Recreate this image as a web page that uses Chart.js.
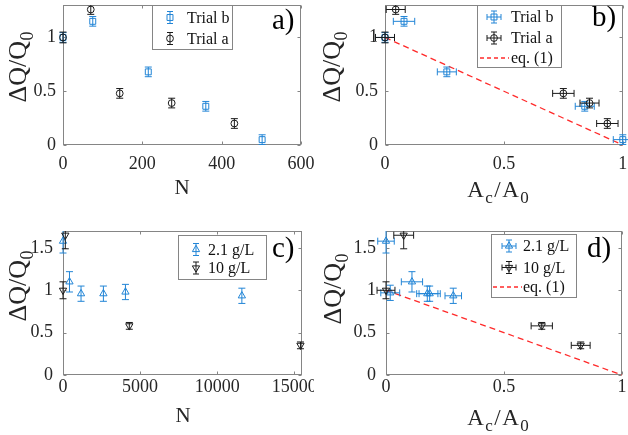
<!DOCTYPE html>
<html>
<head>
<meta charset="utf-8">
<script src="https://cdn.jsdelivr.net/npm/chart.js@4.4.0/dist/chart.umd.min.js"></script>
<style>
  html, body { margin: 0; padding: 0; background: #fff; }
  #wrap { position: relative; width: 628px; height: 435px; }
  canvas { position: absolute; }
</style>
</head>
<body>
<div id="wrap">
  <canvas id="chartA" width="314" height="218" style="left:0;top:0"></canvas>
  <canvas id="chartB" width="314" height="218" style="left:314px;top:0"></canvas>
  <canvas id="chartC" width="314" height="217" style="left:0;top:218px"></canvas>
  <canvas id="chartD" width="314" height="217" style="left:314px;top:218px"></canvas>
</div>
<script>
// tick values
const xTicksA = [0, 200, 400, 600];
const xTicksB = [0, 0.5, 1];
const xTicksC = [0, 5000, 10000, 15000];
const yTicksTop = [0, 0.5, 1];
const yTicksBottom = [0, 0.5, 1, 1.5];

// a) / b)  Trial b and Trial a
const trialbN = [0, 75, 215, 360, 502];
const trialbQ = [1.00, 1.15, 0.68, 0.36, 0.05];
const trialbQErr = [0.045, 0.045, 0.045, 0.045, 0.045];
const trialbA = [0, 0.08, 0.26, 0.84, 1.0];
const trialbAErr = [0.04, 0.045, 0.04, 0.04, 0.04];

const trialaN = [0, 70, 143, 274, 432];
const trialaQ = [1.00, 1.26, 0.48, 0.39, 0.20];
const trialaQErr = [0.05, 0.045, 0.045, 0.045, 0.045];
const trialaA = [0, 0.045, 0.75, 0.86, 0.935];
const trialaAErr = [0.04, 0.04, 0.045, 0.04, 0.045];

// c) / d)  2.1 g/L and 10 g/L
const lowN = [0, 420, 1170, 2620, 4050, 11600];
const lowQ = [1.58, 1.10, 0.96, 0.96, 0.98, 0.935];
const lowQErr = [0.14, 0.12, 0.09, 0.09, 0.09, 0.09];
const lowA = [0, 0.018, 0.11, 0.175, 0.185, 0.285];
const lowAQ = [1.58, 0.97, 1.10, 0.96, 0.96, 0.935];
const lowAQErr = [0.14, 0.09, 0.12, 0.09, 0.09, 0.09];
const lowAErr = [0.035, 0.04, 0.045, 0.045, 0.045, 0.035];

const highN = [0, 150, 4300, 15400];
const highQ = [1.00, 1.65, 0.58, 0.35];
const highQErr = [0.1, 0.16, 0.04, 0.04];
const highA = [0, 0.075, 0.66, 0.825];
const highAErr = [0.038, 0.042, 0.045, 0.04];

// eq. (1)
const eqA = [0, 1];
const eqQ = [1, 0];

const SERIF = "'Liberation Serif', 'Times New Roman', serif";
const BLUE = '#2285d6';
const BLACK = '#1a1a1a';
const RED = '#ff2a2a';
const AXIS = '#858585';

Chart.defaults.font.family = SERIF;

const pts = (xs, ys) => xs.map((x, i) => ({ x: x, y: ys[i] }));

function series(xs, ys, color, style, rot, errY, errX) {
  return {
    data: pts(xs, ys),
    borderColor: color,
    backgroundColor: 'rgba(0,0,0,0)',
    pointStyle: style,
    pointRadius: style === 'rect' ? 4.2 : (style === 'circle' ? 3.4 : 4.2),
    pointRotation: rot,
    pointBorderWidth: 1,
    clip: false,
    errY: errY,
    errX: errX
  };
}

function eqLine() {
  return {
    data: pts(eqA, eqQ),
    showLine: true,
    borderColor: RED,
    borderWidth: 1.3,
    borderDash: [6, 4],
    pointRadius: 0,
    clip: false
  };
}

function drawMarker(ctx, style, x, y, r, rot) {
  ctx.beginPath();
  if (style === 'circle') {
    ctx.arc(x, y, r, 0, Math.PI * 2);
  } else if (style === 'rect') {
    const s = r * Math.SQRT1_2;
    ctx.rect(x - s, y - s, 2 * s, 2 * s);
  } else {
    const d = rot ? -1 : 1;
    ctx.moveTo(x, y - d * r);
    ctx.lineTo(x + r * 0.866, y + d * r * 0.5);
    ctx.lineTo(x - r * 0.866, y + d * r * 0.5);
    ctx.closePath();
  }
  ctx.stroke();
}

const errorBars = {
  id: 'errorBars',
  beforeDatasetDraw(chart, args) {
    const ds = chart.data.datasets[args.index];
    if (!ds.errY && !ds.errX) return;
    const xs = chart.scales.x, ys = chart.scales.y, a = chart.chartArea;
    const ctx = chart.ctx, cap = 3.5;
    ctx.save();
    ctx.beginPath();
    ctx.rect(a.left - 10, a.top, a.right - a.left + 20, a.bottom - a.top);
    ctx.clip();
    ctx.strokeStyle = ds.borderColor;
    ctx.lineWidth = 1;
    ds.data.forEach((p, i) => {
      const px = xs.getPixelForValue(p.x), py = ys.getPixelForValue(p.y);
      ctx.beginPath();
      if (ds.errY) {
        const t = ys.getPixelForValue(p.y + ds.errY[i]);
        const b = ys.getPixelForValue(p.y - ds.errY[i]);
        ctx.moveTo(px, t); ctx.lineTo(px, b);
        ctx.moveTo(px - cap, t); ctx.lineTo(px + cap, t);
        ctx.moveTo(px - cap, b); ctx.lineTo(px + cap, b);
      }
      if (ds.errX) {
        const l = xs.getPixelForValue(p.x - ds.errX[i]);
        const r = xs.getPixelForValue(p.x + ds.errX[i]);
        ctx.moveTo(l, py); ctx.lineTo(r, py);
        ctx.moveTo(l, py - cap); ctx.lineTo(l, py + cap);
        ctx.moveTo(r, py - cap); ctx.lineTo(r, py + cap);
      }
      ctx.stroke();
    });
    ctx.restore();
  }
};

const axesBox = {
  id: 'axesBox',
  beforeDatasetsDraw(chart) {
    const a = chart.chartArea, ctx = chart.ctx;
    const L = Math.round(a.left) + 0.5, R = Math.round(a.right) - 0.5;
    const T = Math.round(a.top) + 0.5, B = Math.round(a.bottom) - 0.5;
    ctx.save();
    ctx.strokeStyle = AXIS;
    ctx.lineWidth = 1;
    ctx.strokeRect(L, T, R - L, B - T);
    ctx.beginPath();
    chart.scales.x.ticks.forEach(t => {
      const x = Math.round(chart.scales.x.getPixelForValue(t.value)) + 0.5;
      ctx.moveTo(x, B); ctx.lineTo(x, B - 3);
      ctx.moveTo(x, T); ctx.lineTo(x, T + 3);
    });
    chart.scales.y.ticks.forEach(t => {
      const y = Math.round(chart.scales.y.getPixelForValue(t.value)) + 0.5;
      ctx.moveTo(L, y); ctx.lineTo(L + 3, y);
      ctx.moveTo(R, y); ctx.lineTo(R - 3, y);
    });
    ctx.stroke();
    ctx.restore();
  }
};

// text pieces: [text, isSub]
function drawParts(ctx, parts, x, y, size, subSize, gap) {
  ctx.textAlign = 'left';
  let w = 0;
  parts.forEach(p => {
    ctx.font = (p[1] ? subSize : size) + 'px ' + SERIF;
    w += ctx.measureText(p[0]).width + gap;
  });
  w -= gap;
  let cx = x - w / 2;
  parts.forEach(p => {
    ctx.font = (p[1] ? subSize : size) + 'px ' + SERIF;
    ctx.fillText(p[0], cx, p[1] ? y + size * 0.28 : y);
    cx += ctx.measureText(p[0]).width + gap;
  });
}

const panelText = {
  id: 'panelText',
  afterDraw(chart) {
    const cfg = panels[chart.canvas.id];
    const ctx = chart.ctx;
    ctx.save();
    ctx.fillStyle = '#262626';
    ctx.textBaseline = 'alphabetic';
    ctx.textAlign = 'left';
    // y title
    ctx.save();
    ctx.translate(cfg.yTitle[0], cfg.yTitle[1]);
    ctx.rotate(-Math.PI / 2);
    drawParts(ctx, [['ΔQ/Q', false], ['0', true]], 0, 0, 26, 18, 0.5);
    ctx.restore();
    // x title
    if (cfg.xTitle === 'N') {
      drawParts(ctx, [['N', false]], cfg.xTitlePos[0], cfg.xTitlePos[1], 21, 15, 0);
    } else {
      drawParts(ctx, [['A', false], ['c', true], ['/', false], ['A', false], ['0', true]],
        cfg.xTitlePos[0], cfg.xTitlePos[1], 23, 17, 1.5);
    }
    // panel label
    ctx.font = '29px ' + SERIF;
    ctx.textBaseline = 'middle';
    ctx.fillStyle = '#000';
    ctx.fillText(cfg.tag, cfg.tagPos[0], cfg.tagPos[1]);
    // legend
    const lg = cfg.legend;
    ctx.fillStyle = '#fff';
    ctx.fillRect(lg.box[0], lg.box[1], lg.box[2] - lg.box[0], lg.box[3] - lg.box[1]);
    ctx.strokeStyle = AXIS;
    ctx.lineWidth = 1;
    ctx.strokeRect(lg.box[0] + 0.5, lg.box[1] + 0.5, lg.box[2] - lg.box[0], lg.box[3] - lg.box[1]);
    ctx.font = '16px ' + SERIF;
    lg.rows.forEach(r => {
      const mx = lg.markerX, my = r.y;
      ctx.strokeStyle = r.color;
      ctx.lineWidth = 1;
      if (r.dash) {
        ctx.save();
        ctx.setLineDash([4, 3]);
        ctx.lineWidth = 1.3;
        ctx.beginPath();
        ctx.moveTo(lg.dash[0], my); ctx.lineTo(lg.dash[1], my);
        ctx.stroke();
        ctx.restore();
      } else {
        ctx.beginPath();
        ctx.moveTo(mx, my - 6); ctx.lineTo(mx, my + 6);
        ctx.moveTo(mx - 3, my - 6); ctx.lineTo(mx + 3, my - 6);
        ctx.moveTo(mx - 3, my + 6); ctx.lineTo(mx + 3, my + 6);
        if (lg.errX) {
          ctx.moveTo(mx - 7, my); ctx.lineTo(mx + 7, my);
          ctx.moveTo(mx - 7, my - 3); ctx.lineTo(mx - 7, my + 3);
          ctx.moveTo(mx + 7, my - 3); ctx.lineTo(mx + 7, my + 3);
        }
        ctx.stroke();
        drawMarker(ctx, r.style, mx, my, r.style === 'circle' ? 3.4 : 4.2, r.rot);
      }
      ctx.fillStyle = '#111';
      ctx.fillText(r.label, lg.textX, my + 1);
    });
    ctx.restore();
  }
};

const panels = {
  chartA: {
    area: { left: 63, right: 301, top: 1, bottom: 145 },
    xMin: 0, xMax: 600, yMax: 1.3, xTicks: xTicksA, yTicks: yTicksTop,
    xPad: 8, yPad: 7,
    datasets: [
      series(trialaN, trialaQ, BLACK, 'circle', 0, trialaQErr, null),
      series(trialbN, trialbQ, BLUE, 'rect', 0, trialbQErr, null)
    ],
    yTitle: [26, 67], xTitle: 'N', xTitlePos: [182, 194],
    tag: 'a)', tagPos: [272, 21],
    legend: { box: [152, 5, 232, 49], markerX: 170, textX: 187, errX: false,
      rows: [
        { label: 'Trial b', color: BLUE, style: 'rect', y: 17.5 },
        { label: 'Trial a', color: BLACK, style: 'circle', y: 38.5 }
      ] }
  },
  chartB: {
    area: { left: 71, right: 309, top: 1, bottom: 145 },
    xMin: 0, xMax: 1, yMax: 1.3, xTicks: xTicksB, yTicks: yTicksTop,
    xPad: 8, yPad: 7,
    datasets: [
      series(trialaA, trialaQ, BLACK, 'circle', 0, trialaQErr, trialaAErr),
      series(trialbA, trialbQ, BLUE, 'rect', 0, trialbQErr, trialbAErr),
      eqLine()
    ],
    yTitle: [26, 67], xTitle: 'A', xTitlePos: [184, 197],
    tag: 'b)', tagPos: [278, 18],
    legend: { box: [163, 5, 247, 67], markerX: 180, textX: 197, errX: true, dash: [166, 195],
      rows: [
        { label: 'Trial b', color: BLUE, style: 'rect', y: 17 },
        { label: 'Trial a', color: BLACK, style: 'circle', y: 38 },
        { label: 'eq. (1)', color: RED, dash: true, y: 58 }
      ] }
  },
  chartC: {
    area: { left: 63, right: 302, top: 13, bottom: 157 },
    xMin: 0, xMax: 15500, yMax: 1.7, xTicks: xTicksC, yTicks: yTicksBottom,
    xPad: 1, yPad: 10,
    datasets: [
      series(highN, highQ, BLACK, 'triangle', 180, highQErr, null),
      series(lowN, lowQ, BLUE, 'triangle', 0, lowQErr, null)
    ],
    yTitle: [26, 68], xTitle: 'N', xTitlePos: [183, 204],
    tag: 'c)', tagPos: [272, 31],
    legend: { box: [178, 17, 266, 61], markerX: 196, textX: 208, errX: false,
      rows: [
        { label: '2.1 g/L', color: BLUE, style: 'triangle', rot: 0, y: 31.5 },
        { label: '10 g/L', color: BLACK, style: 'triangle', rot: 180, y: 50 }
      ] }
  },
  chartD: {
    area: { left: 72, right: 308, top: 13, bottom: 157 },
    xMin: 0, xMax: 1, yMax: 1.7, xTicks: xTicksB, yTicks: yTicksBottom,
    xPad: 1, yPad: 10,
    datasets: [
      series(highA, highQ, BLACK, 'triangle', 180, highQErr, highAErr),
      series(lowA, lowAQ, BLUE, 'triangle', 0, lowAQErr, lowAErr),
      eqLine()
    ],
    yTitle: [27, 71], xTitle: 'A', xTitlePos: [184, 207],
    tag: 'd)', tagPos: [273, 31],
    legend: { box: [177, 16, 262, 79], markerX: 195, textX: 209, errX: true, dash: [179, 208],
      rows: [
        { label: '2.1 g/L', color: BLUE, style: 'triangle', rot: 0, y: 28 },
        { label: '10 g/L', color: BLACK, style: 'triangle', rot: 180, y: 49.5 },
        { label: 'eq. (1)', color: RED, dash: true, y: 69 }
      ] }
  }
};

Object.keys(panels).forEach(id => {
  const cfg = panels[id];
  const canvas = document.getElementById(id);
  const W = canvas.width, H = canvas.height;
  new Chart(canvas, {
    type: 'scatter',
    data: { datasets: cfg.datasets },
    options: {
      responsive: false,
      animation: false,
      events: [],
      layout: { padding: { left: 0, top: cfg.area.top, right: W - cfg.area.right, bottom: 0 } },
      plugins: { legend: { display: false }, tooltip: { enabled: false } },
      scales: {
        x: {
          type: 'linear', min: cfg.xMin, max: cfg.xMax,
          grid: { display: false, drawTicks: false },
          border: { display: false },
          ticks: { color: '#262626', font: { size: 18 }, padding: cfg.xPad, maxRotation: 0, autoSkip: false,
            callback: v => String(v) },
          afterBuildTicks: s => { s.ticks = cfg.xTicks.map(v => ({ value: v })); },
          afterFit: s => { s.height = H - cfg.area.bottom; s.paddingLeft = 0; s.paddingRight = 0; }
        },
        y: {
          type: 'linear', min: 0, max: cfg.yMax,
          grid: { display: false, drawTicks: false },
          border: { display: false },
          ticks: { color: '#262626', font: { size: 18 }, padding: cfg.yPad, autoSkip: false,
            callback: v => String(v) },
          afterBuildTicks: s => { s.ticks = cfg.yTicks.map(v => ({ value: v })); },
          afterFit: s => { s.width = cfg.area.left; s.paddingTop = 0; s.paddingBottom = 0; }
        }
      }
    },
    plugins: [axesBox, errorBars, panelText]
  });
});
</script>
</body>
</html>
